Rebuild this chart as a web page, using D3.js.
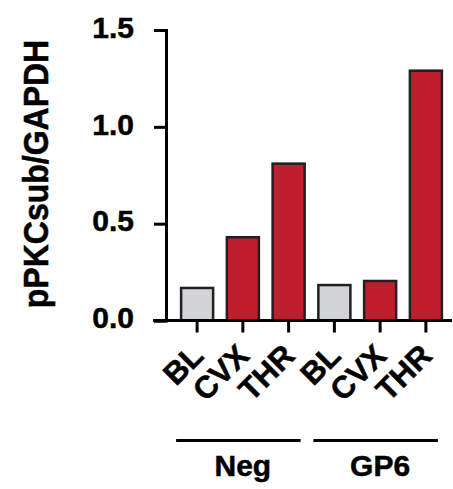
<!DOCTYPE html>
<html>
<head>
<meta charset="utf-8">
<script src="https://cdn.jsdelivr.net/npm/d3@7"></script>
<style>
  body { margin:0; background:#fff; }
  text { font-family: "Liberation Sans", Arial, sans-serif; font-weight:bold; fill:#000; }
</style>
</head>
<body>
<div id="chart"></div>
<script>
// data
var groups = ["Neg", "GP6"];
var conditions = ["BL", "CVX", "THR"];
var values = [0.168, 0.43, 0.81, 0.183, 0.204, 1.29];
var yTicks = [0, 0.5, 1.0, 1.5];
var yLabel = "pPKCsub/GAPDH";

var W = 453, H = 489;
var svg = d3.select("#chart").append("svg")
    .attr("width", W)
    .attr("height", H);

// one entry per bar
var bars = [];
groups.forEach(function(g, gi) {
  conditions.forEach(function(c, ci) {
    var i = gi * conditions.length + ci;
    bars.push({group: g, cond: c, idx: i, value: values[i]});
  });
});

var y = d3.scaleLinear().domain([0, 1.5]).range([320.5, 30]);
var x = d3.scaleBand()
    .domain(bars.map(function(d) { return d.idx; }))
    .range([166, 457])
    .paddingInner(0.3)
    .paddingOuter(0.33);

var ink = "#231f20";

// bars
svg.append("g").selectAll("rect")
  .data(bars)
  .enter().append("rect")
    .attr("x", function(d) { return x(d.idx); })
    .attr("y", function(d) { return y(d.value); })
    .attr("width", x.bandwidth())
    .attr("height", function(d) { return y(0) - y(d.value); })
    .attr("fill", function(d) { return d.cond == "BL" ? "#d1d3d4" : "#be1e2d"; })
    .attr("stroke", ink)
    .attr("stroke-width", 2.5);

// y axis
var yAxis = svg.append("g")
    .attr("transform", "translate(166,0)")
    .call(d3.axisLeft(y).tickValues(yTicks).tickFormat(d3.format(".1f")).tickSize(12).tickPadding(20));
yAxis.select(".domain").attr("stroke", "#000").attr("stroke-width", 3);
yAxis.selectAll(".tick line").attr("stroke", "#000").attr("stroke-width", 3);
yAxis.selectAll(".tick text")
    .style("font-size", "30px")
    .attr("stroke", "#000").attr("stroke-width", 0.5)
    .attr("dy", "0.24em");

// x axis
var xAxis = svg.append("g")
    .attr("transform", "translate(0,320.5)")
    .call(d3.axisBottom(x).tickSize(12).tickFormat(function(i) { return bars[i].cond; }));
xAxis.select(".domain").remove();
xAxis.append("line")
    .attr("x1", 153).attr("x2", 452)
    .attr("stroke", "#000").attr("stroke-width", 3);
xAxis.selectAll(".tick line").attr("stroke", "#000").attr("stroke-width", 3);
xAxis.selectAll(".tick text")
    .style("font-size", "31px")
    .attr("stroke", "#000").attr("stroke-width", 0.5)
    .attr("text-anchor", "end")
    .attr("dy", null)
    .attr("y", 0)
    .attr("transform", "translate(8,37) rotate(-45)");

// group brackets
var groupG = svg.append("g").selectAll("g")
  .data(groups)
  .enter().append("g");
groupG.append("line")
    .attr("x1", function(d, i) { return x(i * 3) + x.bandwidth() / 2 - 21; })
    .attr("x2", function(d, i) { return x(i * 3 + 2) + x.bandwidth() / 2 + 12; })
    .attr("y1", 440.5).attr("y2", 440.5)
    .attr("stroke", "#000").attr("stroke-width", 3);
groupG.append("text")
    .attr("x", function(d, i) { return x(i * 3 + 1) + x.bandwidth() / 2; })
    .attr("y", 476)
    .attr("text-anchor", "middle")
    .style("font-size", "30px")
    .attr("stroke", "#000").attr("stroke-width", 0.5)
    .text(function(d) { return d; });

// y label
svg.append("text")
    .attr("transform", "translate(48,174) rotate(-90) scale(1,1.1)")
    .attr("text-anchor", "middle")
    .style("font-size", "32px")
    .attr("stroke", "#000").attr("stroke-width", 0.5)
    .text(yLabel);
</script>
</body>
</html>
